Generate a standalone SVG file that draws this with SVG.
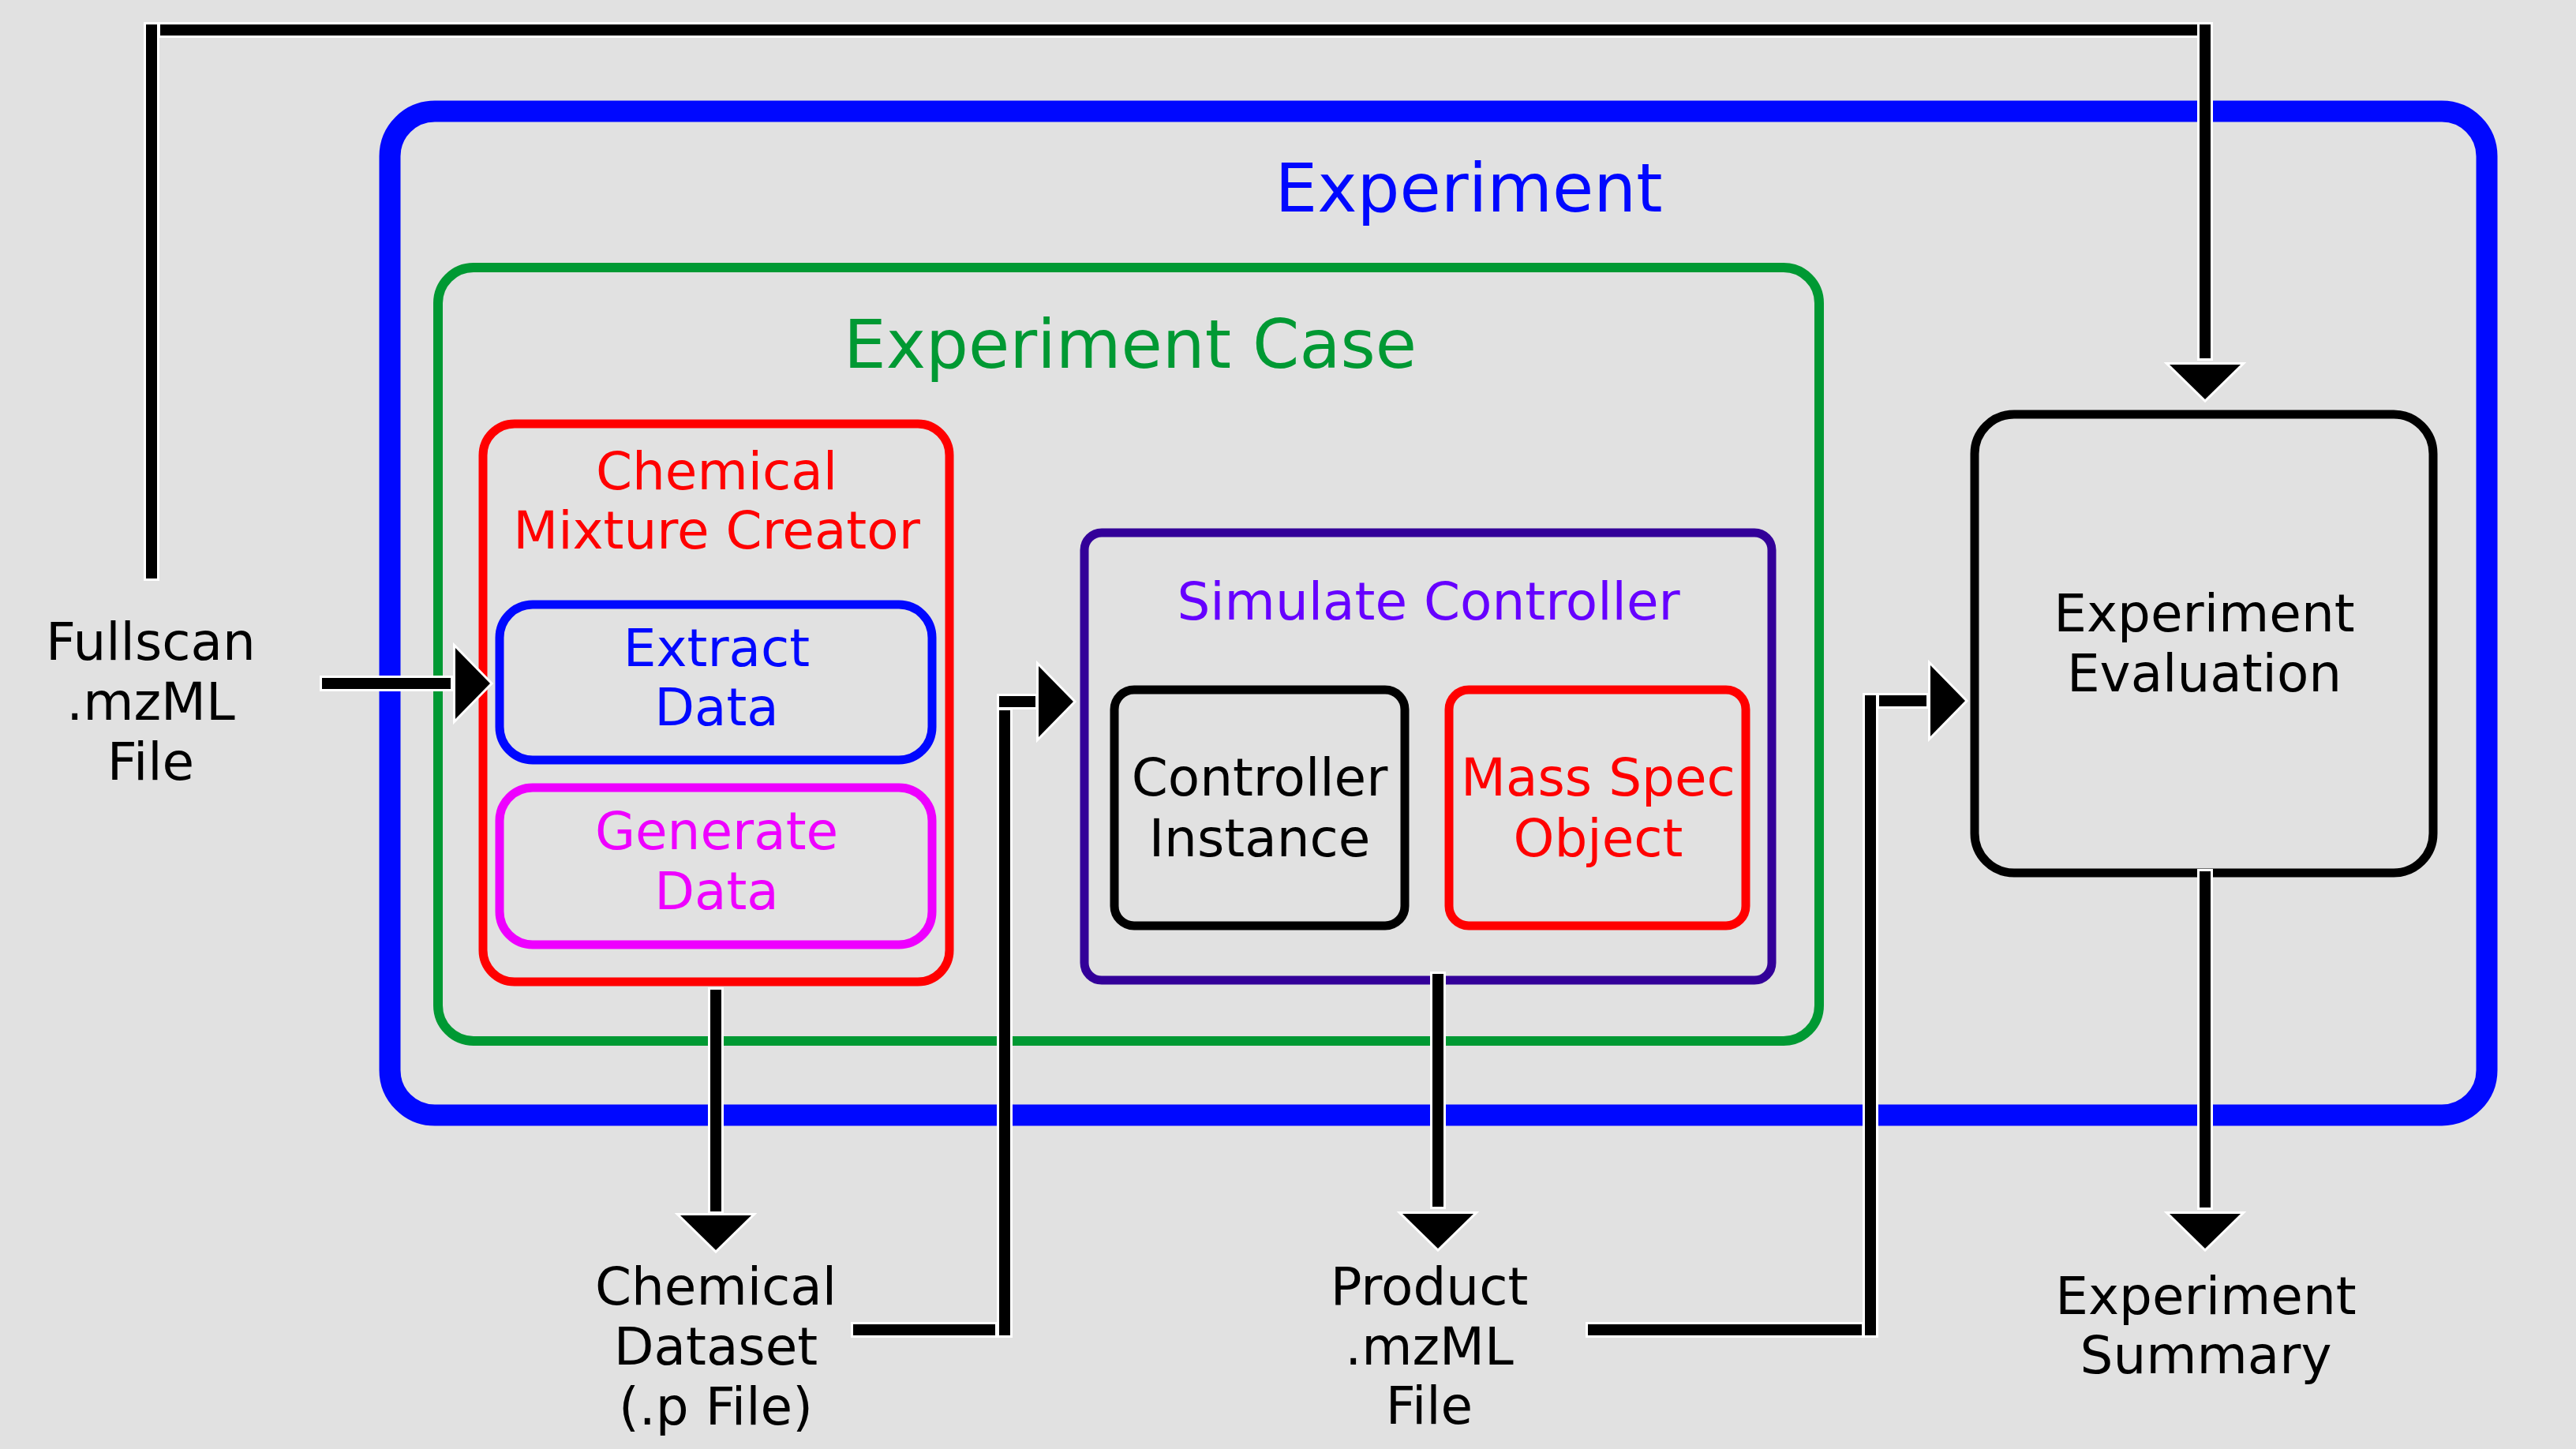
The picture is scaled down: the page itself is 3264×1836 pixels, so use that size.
<svg xmlns="http://www.w3.org/2000/svg" width="3264" height="1836" viewBox="0 0 3264 1836">
<style>
text { font-family: "DejaVu Sans", Verdana, sans-serif; font-size: 66px; text-anchor: middle; }
.title { font-size: 85px; }
.box { fill: none; }
.seg { fill: #000; stroke: #fff; stroke-width: 6; paint-order: stroke; }
.ah { fill: #000; stroke: #fff; stroke-width: 6; paint-order: stroke; stroke-linejoin: miter; stroke-miterlimit: 10; }
</style>
<defs>
<polygon id="ahd" points="-45,0 45,0 0,44"/>
</defs>
<rect x="0" y="0" width="3264" height="1836" fill="#E1E1E1"/>

<g id="experiment">
<rect class="box" x="494" y="141" width="2657" height="1272" rx="57" stroke="#0008FF" stroke-width="27"/>
<text class="title" x="1861" y="268" fill="#0008FF">Experiment</text>
</g>

<g id="experiment-case">
<rect class="box" x="555" y="339" width="1750" height="980" rx="45" stroke="#009933" stroke-width="12"/>
<text class="title" x="1432" y="466" fill="#009933">Experiment Case</text>
</g>

<g id="chemical-mixture-creator">
<rect class="box" x="612" y="537" width="591" height="707" rx="40" stroke="#FF0000" stroke-width="11"/>
<text x="908" y="620" fill="#FF0000">Chemical</text>
<text x="908" y="695" fill="#FF0000">Mixture Creator</text>
</g>

<g id="extract-data">
<rect class="box" x="633" y="766" width="548" height="197" rx="42" stroke="#0008FF" stroke-width="11"/>
<text x="908" y="844" fill="#0008FF">Extract</text>
<text x="908" y="919" fill="#0008FF">Data</text>
</g>

<g id="generate-data">
<rect class="box" x="633" y="998" width="548" height="199" rx="42" stroke="#EE00FF" stroke-width="11"/>
<text x="908" y="1076" fill="#EE00FF">Generate</text>
<text x="908" y="1152" fill="#EE00FF">Data</text>
</g>

<g id="simulate-controller">
<rect class="box" x="1374" y="675" width="871" height="567" rx="22" stroke="#330099" stroke-width="11"/>
<text x="1810" y="785" fill="#6600FF">Simulate Controller</text>
</g>

<g id="controller-instance">
<rect class="box" x="1412" y="874" width="368" height="299" rx="25" stroke="#000" stroke-width="11"/>
<text x="1596" y="1008" fill="#000">Controller</text>
<text x="1596" y="1085" fill="#000">Instance</text>
</g>

<g id="mass-spec-object">
<rect class="box" x="1836" y="874" width="376" height="299" rx="25" stroke="#FF0000" stroke-width="11"/>
<text x="2025" y="1008" fill="#FF0000">Mass Spec</text>
<text x="2025" y="1085" fill="#FF0000">Object</text>
</g>

<g id="experiment-evaluation">
<rect class="box" x="2502" y="525" width="581" height="581" rx="50" stroke="#000" stroke-width="11"/>
<text x="2793" y="800" fill="#000">Experiment</text>
<text x="2793" y="876" fill="#000">Evaluation</text>
</g>

<g id="fullscan-file">
<text x="191" y="836" fill="#000">Fullscan</text>
<text x="191" y="912" fill="#000">.mzML</text>
<text x="191" y="988" fill="#000">File</text>
</g>

<g id="chemical-dataset">
<text x="907" y="1653" fill="#000">Chemical</text>
<text x="907" y="1729" fill="#000">Dataset</text>
<text x="907" y="1805" fill="#000">(.p File)</text>
</g>

<g id="product-file">
<text x="1811" y="1653" fill="#000">Product</text>
<text x="1811" y="1729" fill="#000">.mzML</text>
<text x="1811" y="1804" fill="#000">File</text>
</g>

<g id="experiment-summary">
<text x="2795" y="1665" fill="#000">Experiment</text>
<text x="2795" y="1740" fill="#000">Summary</text>
</g>

<g id="connectors">
<!-- Fullscan feedback to evaluation -->
<rect class="seg" x="185" y="31" width="14" height="702"/>
<rect class="seg" x="203" y="31" width="2581" height="14"/>
<rect class="seg" x="2787" y="31" width="14" height="423"/>
<use class="ah" href="#ahd" transform="translate(2794,462)"/>
<!-- Fullscan to Extract Data -->
<rect class="seg" x="408" y="859" width="163" height="14"/>
<use class="ah" href="#ahd" transform="translate(577,866) rotate(-90)"/>
<!-- Chemical Mixture Creator to Chemical Dataset -->
<rect class="seg" x="900" y="1254" width="14" height="281"/>
<use class="ah" href="#ahd" transform="translate(907,1540)"/>
<!-- Chemical Dataset to Simulate Controller -->
<rect class="seg" x="1081" y="1678" width="180" height="14"/>
<rect class="seg" x="1266" y="900" width="14" height="792"/>
<rect class="seg" x="1266" y="882" width="46" height="14"/>
<use class="ah" href="#ahd" transform="translate(1316,889) rotate(-90)"/>
<!-- Simulate Controller to Product file -->
<rect class="seg" x="1815" y="1234" width="14" height="295"/>
<use class="ah" href="#ahd" transform="translate(1822,1538)"/>
<!-- Product file to Experiment Evaluation -->
<rect class="seg" x="2012" y="1678" width="347" height="14"/>
<rect class="seg" x="2363" y="881" width="14" height="811"/>
<rect class="seg" x="2381" y="881" width="60" height="14"/>
<use class="ah" href="#ahd" transform="translate(2446,888) rotate(-90)"/>
<!-- Experiment Evaluation to Summary -->
<rect class="seg" x="2787" y="1104" width="14" height="426"/>
<use class="ah" href="#ahd" transform="translate(2794,1538)"/>
</g>
</svg>
